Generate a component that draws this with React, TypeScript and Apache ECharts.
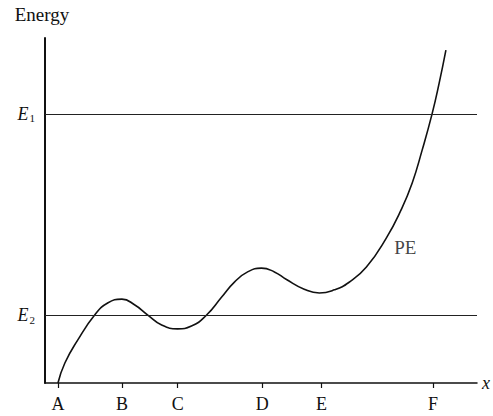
import React, { useEffect, useRef } from "react";
import * as echarts from "echarts";

// Potential energy curve (x and energy in arbitrary units)
const curveX = [0.3, 0.46, 0.76, 1.15, 1.45, 1.78, 2.08, 2.38, 2.7, 3.07, 3.39, 3.74, 4.09, 4.39, 4.69, 5.01, 5.31, 5.59, 6.0, 6.35, 6.7, 7.04, 7.44, 7.9, 8.24, 8.5, 8.73, 8.96, 9.12, 9.28];
const curveY = [0.0, 0.58, 1.25, 1.97, 2.32, 2.43, 2.26, 1.97, 1.68, 1.57, 1.65, 1.97, 2.49, 2.93, 3.22, 3.33, 3.22, 3.0, 2.72, 2.61, 2.7, 2.92, 3.36, 4.2, 5.01, 5.8, 6.75, 7.8, 8.67, 9.65];

// x-axis position labels
const tickNames = ["A", "B", "C", "D", "E", "F"];
const tickPositions = [0.3, 1.78, 3.07, 5.03, 6.4, 8.98];

// energy levels
const levelNames = ["2", "1"];
const levelValues = [1.97, 7.8];

// curve label
const peLabel = { name: "PE", x: 8.34, y: 3.94 };

const FONT = "'Liberation Serif', 'Times New Roman', serif";

export default function App() {
  const ref = useRef<HTMLDivElement>(null);
  useEffect(() => {
    if (!ref.current) return;
    const chart = echarts.init(ref.current, null, { renderer: "svg" });
    chart.setOption({
      animation: false,
      backgroundColor: "#ffffff",
      grid: { left: 45, right: 15, top: 38, bottom: 33 },
      xAxis: {
        type: "value",
        min: 0,
        max: 10,
        name: "x",
        nameLocation: "end",
        nameGap: 5,
        nameTextStyle: { fontFamily: FONT, fontStyle: "italic", fontSize: 18, color: "#111", verticalAlign: "middle" },
        splitLine: { show: false },
        axisLine: { show: true, onZero: false, lineStyle: { color: "#111", width: 1.5 } },
        axisTick: { show: true, inside: false, length: 5, customValues: tickPositions, lineStyle: { color: "#111", width: 1.2 } },
        axisLabel: {
          show: true,
          customValues: tickPositions,
          margin: 12,
          fontFamily: FONT,
          fontSize: 18,
          color: "#111",
          formatter: (v: number) => {
            const i = tickPositions.findIndex((p) => Math.abs(p - v) < 1e-6);
            return i >= 0 ? tickNames[i] : "";
          },
        },
      },
      yAxis: {
        type: "value",
        min: 0,
        max: 10,
        name: "Energy",
        nameLocation: "end",
        nameGap: 14,
        nameTextStyle: { fontFamily: FONT, fontSize: 19, color: "#111", align: "center", padding: [0, 6, 0, 0] },
        splitLine: { show: false },
        axisLine: { show: true, onZero: false, lineStyle: { color: "#111", width: 2 } },
        axisTick: { show: false },
        axisLabel: {
          show: true,
          customValues: levelValues,
          margin: 10,
          formatter: (v: number) => {
            const i = levelValues.findIndex((p) => Math.abs(p - v) < 1e-6);
            return i >= 0 ? `{e|E}{s|${levelNames[i]}}` : "";
          },
          rich: {
            e: { fontFamily: FONT, fontStyle: "italic", fontSize: 18, color: "#111" },
            s: { fontFamily: FONT, fontSize: 11, color: "#111", padding: [9, 0, 0, 1] },
          },
        },
      },
      series: [
        {
          type: "line",
          data: curveX.map((x, i) => [x, curveY[i]]),
          smooth: 0.5,
          symbol: "none",
          lineStyle: { color: "#111", width: 1.6 },
          markLine: {
            silent: true,
            symbol: "none",
            label: { show: false },
            lineStyle: { color: "#222", width: 1, type: "solid" },
            data: levelValues.map((v) => ({ yAxis: v })),
          },
        },
        {
          type: "scatter",
          data: [[peLabel.x, peLabel.y]],
          symbolSize: 0,
          label: {
            show: true,
            position: "inside",
            formatter: peLabel.name,
            fontFamily: FONT,
            fontSize: 19,
            color: "#111",
          },
        },
      ],
    });
    return () => chart.dispose();
  }, []);
  return <div ref={ref} style={{ position: "absolute", left: 0, top: 0, width: 493, height: 416 }} />;
}
